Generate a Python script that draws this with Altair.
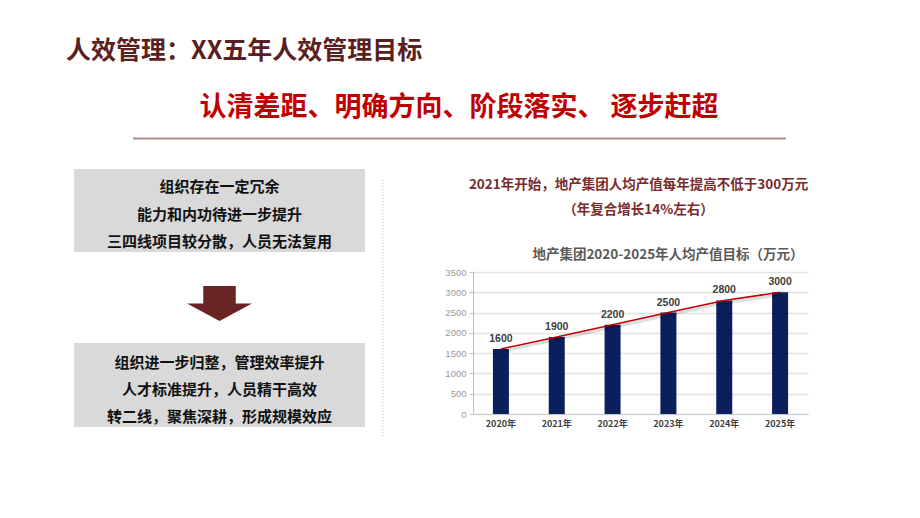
import altair as alt
import pandas as pd

# ---- data ----
years = ["2020年", "2021年", "2022年", "2023年", "2024年", "2025年"]
values = [1600, 1900, 2200, 2500, 2800, 3000]
y_ticks = [0, 500, 1000, 1500, 2000, 2500, 3000, 3500]
header = "人效管理：XX五年人效管理目标"
slogan = "认清差距、明确方向、阶段落实、 逐步赶超"
box1_lines = ["组织存在一定冗余", "能力和内功待进一步提升", "三四线项目较分散，人员无法复用"]
box2_lines = ["组织进一步归整，管理效率提升", "人才标准提升，人员精干高效", "转二线，聚焦深耕，形成规模效应"]
note_lines = ["2021年开始，地产集团人均产值每年提高不低于300万元", "（年复合增长14%左右）"]
chart_title = "地产集团2020-2025年人均产值目标（万元）"

FONT = "Noto Sans CJK SC"
X0, Y0 = 473, 272      # page position of the plot origin
W, H = 335, 142        # plot area


def px(x):
    return x - X0


def py(y):
    return y - Y0


one = pd.DataFrame({"k": [0]})
df = pd.DataFrame({"year": years, "value": values})


def text_layer(txt, x, y, size, color, align="center", weight="bold", font=FONT):
    return alt.Chart(one).mark_text(
        font=font, fontSize=size, fontWeight=weight, color=color,
        align=align, baseline="middle"
    ).encode(x=alt.value(px(x)), y=alt.value(py(y)), text=alt.value(txt))


def rect_layer(x1, x2, y1, y2, color):
    return alt.Chart(one).mark_rect(color=color).encode(
        x=alt.value(px(x1)), x2=alt.value(px(x2)),
        y=alt.value(py(y1)), y2=alt.value(py(y2)))


layers = []

# header + slogan + separator
layers.append(text_layer(header, 66, 51, 25, "#5c1f1f", align="left"))
layers.append(text_layer(slogan, 459, 108, 27, "#c00000"))
layers.append(alt.Chart(one).mark_rule(color="#b38c8c", strokeWidth=2).encode(
    x=alt.value(px(133)), x2=alt.value(px(786)), y=alt.value(py(138.5))))

# left boxes
layers.append(rect_layer(74, 365, 169, 252, "#d9d9d9"))
layers.append(rect_layer(74, 365, 343, 427, "#d9d9d9"))
for i, t in enumerate(box1_lines):
    layers.append(text_layer(t, 219.5, 187 + i * 27.5, 15, "#111111"))
for i, t in enumerate(box2_lines):
    layers.append(text_layer(t, 219.5, 363 + i * 27, 15, "#111111"))

# arrow
arrow_path = "M-0.5,-0.54 L0.5,-0.54 L0.5,0 L1,0 L0,0.54 L-1,0 L-0.5,0 Z"
layers.append(alt.Chart(one).mark_point(
    shape=arrow_path, size=65 * 65, filled=True, color="#6b2424", opacity=1, strokeWidth=0
).encode(x=alt.value(px(219.5)), y=alt.value(py(303.5))))

# dotted divider
layers.append(alt.Chart(one).mark_rule(color="#bfbfbf", strokeWidth=1, strokeDash=[1, 2]).encode(
    x=alt.value(px(383)), y=alt.value(py(180)), y2=alt.value(py(438))))

# notes + chart title
for i, t in enumerate(note_lines):
    layers.append(text_layer(t, 638.5, 185 + i * 25, 13.5, "#7a2a2a"))
layers.append(text_layer(chart_title, 668, 255, 13.5, "#595959"))

# ---- bar chart ----
xenc = alt.X("year:N", sort=years,
             scale=alt.Scale(domain=years, paddingInner=0, paddingOuter=0),
             axis=alt.Axis(title=None, labelAngle=0, labelFont=FONT, labelFontSize=9,
                           labelFontWeight="bold", labelColor="#404040",
                           domainColor="#c8c8c8", ticks=False, labelPadding=5, grid=False))
yenc = alt.Y("value:Q",
             scale=alt.Scale(domain=[0, 3500], nice=False),
             axis=alt.Axis(title=None, values=y_ticks, format="d", labelFont="Liberation Sans",
                           labelFontSize=9.5, labelColor="#9a9a9a", tickSize=4,
                           tickColor="#bfbfbf", domainColor="#bfbfbf", labelPadding=3,
                           grid=True, gridColor="#e3e3e3", gridWidth=1.5))

base = alt.Chart(df).encode(x=xenc, y=yenc)
bars = base.mark_bar(size=16, color="#0a1f5c")
shadow = base.mark_line(color="#000000", opacity=0.13, strokeWidth=3, yOffset=2.5)
line = base.mark_line(color="#c00000", strokeWidth=1.5)
labels = base.mark_text(dy=-10, font="Liberation Sans", fontSize=10.5, fontWeight="bold",
                        color="#404040").encode(text="value:Q")

layers += [bars, shadow, line, labels]

chart = alt.layer(*layers).properties(
    width=W, height=H,
    autosize=alt.AutoSizeParams(type="none"),
    padding={"left": X0 - 8, "top": Y0 - 8, "right": 904 - (X0 - 8) - W, "bottom": 500 - (Y0 - 8) - H},
    background="white",
).configure_view(stroke=None)

chart.save("out.html", embed_options={"renderer": "svg", "actions": False})
